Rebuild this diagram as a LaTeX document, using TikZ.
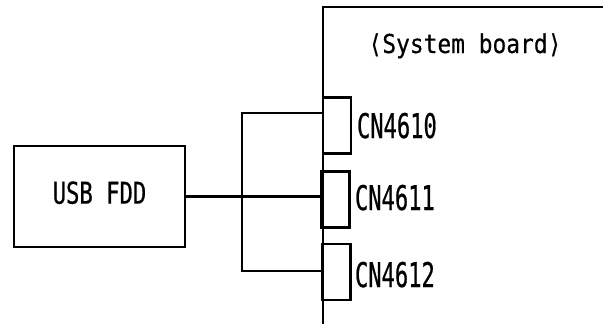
\documentclass[tikz,border=0pt]{standalone}
\usepackage{fontspec}
\usepackage{tikz}
\usetikzlibrary{positioning}
\newfontfamily\cnfont[FakeStretch=0.65,FakeBold=0.6]{DejaVu Sans Mono}
\newfontfamily\boxfont[FakeStretch=0.74,FakeBold=0.6]{DejaVu Sans Mono}
\newfontfamily\titlefont[FakeStretch=0.88,FakeBold=0.4]{DejaVu Sans Mono}

\begin{document}
\begin{tikzpicture}[
        x=1pt, y=-1pt,
        line width=2.3pt,
        every node/.style={inner sep=0pt, outer sep=0pt},
        unit/.style={draw, rectangle, minimum width=171pt, minimum height=101pt, text depth=8pt, font=\boxfont\fontsize{30}{30}\selectfont},
        conn/.style={draw, rectangle, minimum width=28pt, minimum height=56pt},
        conn label/.style={anchor=base west, font=\cnfont\fontsize{34}{34}\selectfont},
        board label/.style={anchor=base, font=\titlefont\fontsize{26}{26}\selectfont}
    ]
        \useasboundingbox (0,0) rectangle (603,324);

        % system board outline
        \coordinate (board top) at (603,7);
        \coordinate (board corner) at (323,7);
        \coordinate (board bot) at (323,324);
        \draw (board top) -- (board corner) -- (board bot);
        \node[board label] (board name) at (465,53) {⟨System board⟩};

        \node[conn] (cn4610) at (337,125.5) {};
        \node[conn] (cn4611) at (335.5,199.5) {};
        \node[conn] (cn4612) at (336.5,272) {};
        \node[conn label] (cn4610 name) at (357,138) {CN4610};
        \node[conn label] (cn4611 name) at (355,210) {CN4611};
        \node[conn label] (cn4612 name) at (355,287) {CN4612};

        \node[unit] (fdd) at (99.5,196.5) {USB FDD};

        % cable
        \coordinate (bus top) at (242,113);
        \coordinate (bus bot) at (242,271);
        \draw (fdd.east) -- (fdd.east -| cn4611.west);
        \draw (bus top -| cn4610.west) -- (bus top) -- (bus bot) -- (bus bot -| cn4612.west);
    \end{tikzpicture}
\end{document}
